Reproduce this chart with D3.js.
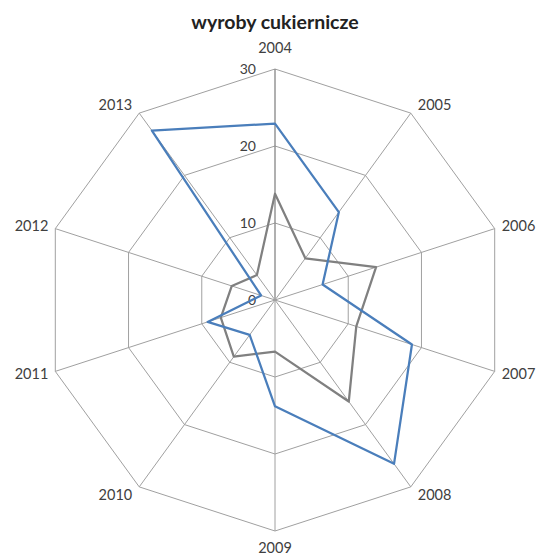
<!DOCTYPE html>
<html>
<head>
<meta charset="utf-8">
<script src="https://cdn.jsdelivr.net/npm/d3@7"></script>
<style>
  html, body { margin: 0; padding: 0; background: #fff; }
  svg { display: block; }
  text { font-family: Lato, "Open Sans", sans-serif; fill: #404040; }
</style>
</head>
<body>
<script>
const categories = ["2004","2005","2006","2007","2008","2009","2010","2011","2012","2013"];
const seriesBlue = [22.9, 14.1, 6.5, 18.7, 26.3, 13.8, 5.6, 9.2, 1.9, 27.2];
const seriesGray = [13.8, 6.7, 13.8, 11.1, 16.3, 6.7, 9.1, 7.4, 5.9, 4.0];
const ticks = [0, 10, 20, 30];
const title = "wyroby cukiernicze";

const W = 541, H = 557;
const cx = 275, cy = 300, R = 231;

const svg = d3.select("body").append("svg").attr("width", W).attr("height", H);

const r = d3.scaleLinear().domain([0, 30]).range([0, R]);
const angle = d3.scalePoint().domain(categories).range([0, 2 * Math.PI * (categories.length - 1) / categories.length]);

function pt(cat, v) {
  const a = angle(cat);
  return [cx + r(v) * Math.sin(a), cy - r(v) * Math.cos(a)];
}

const g = svg.append("g");

// grid rings
ticks.filter(t => t > 0).forEach(t => {
  g.append("path")
    .attr("d", d3.line()(categories.map(c => pt(c, t))) + "Z")
    .attr("fill", "none")
    .attr("stroke", "#a0a0a0")
    .attr("stroke-width", 1);
});

// spokes
categories.forEach((c, i) => {
  const p = pt(c, 30);
  g.append("line")
    .attr("x1", cx).attr("y1", cy).attr("x2", p[0]).attr("y2", p[1])
    .attr("stroke", i === 0 ? "#868686" : "#a0a0a0")
    .attr("stroke-width", i === 0 ? 1.3 : 1);
});

// tick labels
ticks.forEach(t => {
  g.append("text")
    .attr("x", cx - 19)
    .attr("y", cy - r(t) + 5)
    .attr("text-anchor", "end")
    .attr("font-size", 14)
    .text(t);
});

// category labels
categories.forEach((c, i) => {
  const a = angle(c);
  const p = pt(c, 30);
  const s = Math.sin(a), co = Math.cos(a);
  let x, y, anchor;
  if (Math.abs(s) < 1e-6) {
    anchor = "middle";
    x = p[0];
    y = co > 0 ? p[1] - 16 : p[1] + 22;
  } else {
    anchor = s > 0 ? "start" : "end";
    x = p[0] + (s > 0 ? 7 : -7);
    y = p[1] + 5 - 10 * co;
  }
  g.append("text")
    .attr("x", x).attr("y", y)
    .attr("text-anchor", anchor)
    .attr("font-size", 14.5)
    .text(c);
});

// series
const line = d3.line();
[[seriesGray, "#808080"], [seriesBlue, "#4a7ebb"]].forEach(([vals, col]) => {
  g.append("path")
    .attr("d", line(categories.map((c, i) => pt(c, vals[i]))) + "Z")
    .attr("fill", "none")
    .attr("stroke", col)
    .attr("stroke-width", 2.25)
    .attr("stroke-linejoin", "round");
});

// title
svg.append("text")
  .attr("x", cx)
  .attr("y", 29)
  .attr("text-anchor", "middle")
  .attr("font-size", 19.5)
  .attr("font-weight", "bold")
  .style("fill", "#222")
  .text(title);
</script>
</body>
</html>
